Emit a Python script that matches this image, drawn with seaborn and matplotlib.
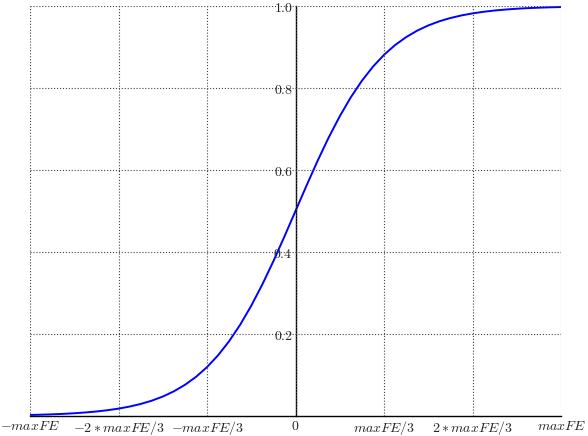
import pandas as pd
import seaborn as sns
import matplotlib.pyplot as plt

# points, x in units of maxFE
x_vals = [-1.0, -0.9583, -0.9167, -0.875, -0.8333, -0.7917, -0.75, -0.7083, -0.6667, -0.625,
          -0.5833, -0.5417, -0.5, -0.4583, -0.4167, -0.375, -0.3333, -0.2917, -0.25, -0.2083,
          -0.1667, -0.125, -0.0833, -0.0417, 0.0,
          0.0417, 0.0833, 0.125, 0.1667, 0.2083, 0.25, 0.2917, 0.3333, 0.375, 0.4167,
          0.4583, 0.5, 0.5417, 0.5833, 0.625, 0.6667, 0.7083, 0.75, 0.7917, 0.8333,
          0.875, 0.9167, 0.9583, 1.0]
y_vals = [0.0025, 0.0032, 0.0041, 0.0052, 0.0067, 0.0086, 0.0110, 0.0141, 0.0180, 0.0230,
          0.0293, 0.0373, 0.0474, 0.0601, 0.0759, 0.0953, 0.1192, 0.1480, 0.1824, 0.2227,
          0.2689, 0.3208, 0.3775, 0.4378, 0.5000,
          0.5622, 0.6225, 0.6792, 0.7311, 0.7773, 0.8176, 0.8520, 0.8808, 0.9047, 0.9241,
          0.9399, 0.9526, 0.9627, 0.9707, 0.9770, 0.9820, 0.9859, 0.9890, 0.9914, 0.9933,
          0.9948, 0.9959, 0.9968, 0.9975]

x_ticks = [-1, -2/3, -1/3, 0, 1/3, 2/3, 1]
x_ticklabels = ['$-maxFE$', '$-2*maxFE/3$', '$-maxFE/3$', '$0$', '$maxFE/3$', '$2*maxFE/3$', '$maxFE$']
y_ticks = [0.2, 0.4, 0.6, 0.8, 1.0]
y_ticklabels = ['$0.2$', '$0.4$', '$0.6$', '$0.8$', '$1.0$']

df = pd.DataFrame({'x': x_vals, 'y': y_vals})

sns.set_style('white')
plt.rcParams['font.family'] = ['DejaVu Sans']
plt.rcParams['mathtext.fontset'] = 'cm'

fig = plt.figure(figsize=(5.88, 4.36), dpi=100)
ax = fig.add_axes([30/588, 20/436, 531/588, 410/436])

sns.lineplot(data=df, x='x', y='y', color='blue', linewidth=1.4, ax=ax)

ax.set_xlim(-1, 1)
ax.set_ylim(0, 1)
ax.set_xticks(x_ticks)
ax.set_xticklabels(x_ticklabels, fontsize=10)
ax.set_yticks(y_ticks)
ax.set_yticklabels(y_ticklabels, fontsize=10)
ax.set_xlabel('')
ax.set_ylabel('')

ax.spines['left'].set_position(('data', 0))
ax.spines['bottom'].set_position(('data', 0))
ax.spines['top'].set_visible(False)
ax.spines['right'].set_visible(False)
for s in ['left', 'bottom']:
    ax.spines[s].set_color('black')
    ax.spines[s].set_linewidth(1.0)

ax.tick_params(axis='x', direction='in', length=3, width=0.8, color='black', pad=2)
ax.tick_params(axis='y', direction='in', length=3, width=0.8, color='black', pad=2)
ax.grid(True, linestyle=':', color='#444444', linewidth=0.8)
ax.set_axisbelow(False)

fig.savefig('out.png', dpi=100)
